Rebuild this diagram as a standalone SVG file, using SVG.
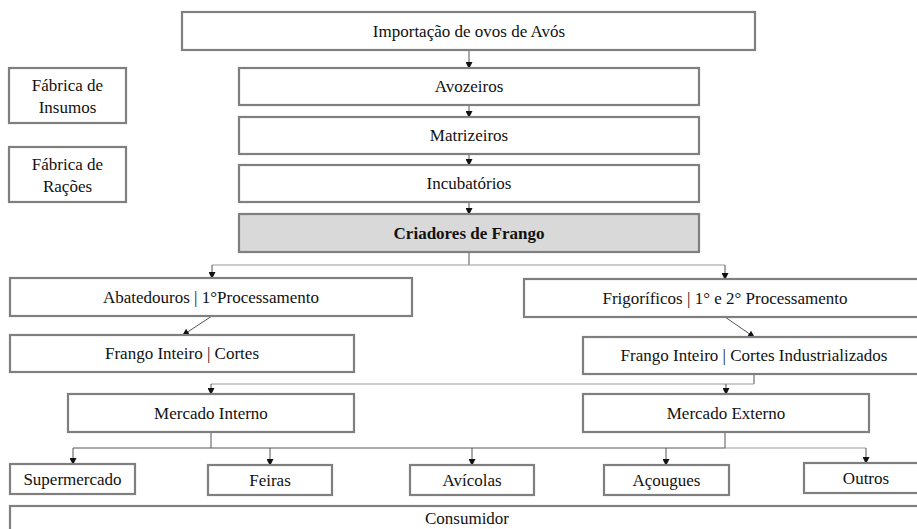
<svg xmlns="http://www.w3.org/2000/svg" width="917" height="529" viewBox="0 0 917 529">
<defs>
<style>
.box{fill:#ffffff;stroke:#7f7f7f;stroke-width:2.2}
.grey{fill:#d9d9d9}
.b{font-weight:bold}
.c{fill:none;stroke:#555;stroke-width:1}
.cl{fill:none;stroke:#999;stroke-width:1}
</style>
<marker id="ad" markerWidth="7" markerHeight="7" refX="6" refY="3.5" orient="auto" markerUnits="userSpaceOnUse" viewBox="0 0 7 7">
<path d="M0,0 L7,3.5 L0,7 Z" fill="#111"/>
</marker>
</defs>

<g id="connectors">
<line class="c" x1="469" y1="50" x2="469" y2="68" marker-end="url(#ad)"/>
<line class="c" x1="469" y1="105" x2="469" y2="117" marker-end="url(#ad)"/>
<line class="c" x1="469" y1="154" x2="469" y2="165" marker-end="url(#ad)"/>
<line class="c" x1="469" y1="202" x2="469" y2="214" marker-end="url(#ad)"/>
<path class="c" d="M469,252 V265"/>
<path class="cl" d="M469,265 H212"/>
<path class="c" d="M212,265 V278" marker-end="url(#ad)"/>
<path class="cl" d="M469,265 H725"/>
<path class="c" d="M725,265 V279" marker-end="url(#ad)"/>
<line class="c" x1="212" y1="316" x2="183" y2="335" marker-end="url(#ad)"/>
<line class="c" x1="725" y1="317" x2="754" y2="337" marker-end="url(#ad)"/>
<path class="c" d="M754,374 V384"/>
<path class="cl" d="M754,384 H211"/>
<path class="c" d="M211,384 V394" marker-end="url(#ad)"/>
<path class="c" d="M726,384 V394" marker-end="url(#ad)"/>
<path class="c" d="M211,432 V448"/>
<path class="c" d="M725,432 V448"/>
<path class="c" d="M73,448 H725"/>
<path class="cl" d="M725,448 H866"/>
<path class="c" d="M73,448 V464" marker-end="url(#ad)"/>
<path class="c" d="M270,448 V465" marker-end="url(#ad)"/>
<path class="c" d="M472,448 V465" marker-end="url(#ad)"/>
<path class="c" d="M666,448 V465" marker-end="url(#ad)"/>
<path class="c" d="M866,448 V463" marker-end="url(#ad)"/>
</g>

<g font-family="Liberation Serif, serif" font-size="17" fill="#111" text-anchor="middle">
<g id="importacao"><rect class="box" x="182" y="12" width="573" height="38"/><text x="469" y="37">Importação de ovos de Avós</text></g>
<g id="insumos"><rect class="box" x="9" y="68" width="117" height="55"/><text x="67.5" y="91">Fábrica de</text><text x="67.5" y="113">Insumos</text></g>
<g id="racoes"><rect class="box" x="9" y="147" width="117" height="55"/><text x="67.5" y="170">Fábrica de</text><text x="67.5" y="192">Rações</text></g>
<g id="avozeiros"><rect class="box" x="239" y="68" width="460" height="37"/><text x="469" y="92">Avozeiros</text></g>
<g id="matrizeiros"><rect class="box" x="239" y="117" width="460" height="37"/><text x="469" y="141">Matrizeiros</text></g>
<g id="incubatorios"><rect class="box" x="239" y="165" width="460" height="37"/><text x="469" y="189">Incubatórios</text></g>
<g id="criadores"><rect class="box grey" x="239" y="214" width="460" height="38"/><text class="b" x="469" y="239">Criadores de Frango</text></g>
<g id="abatedouros"><rect class="box" x="10" y="278" width="402" height="38"/><text x="211" y="303">Abatedouros | 1°Processamento</text></g>
<g id="frigorificos"><rect class="box" x="524" y="279" width="402" height="38"/><text x="725" y="304">Frigoríficos | 1° e 2° Processamento</text></g>
<g id="frango-cortes"><rect class="box" x="10" y="335" width="344" height="37"/><text x="182" y="359">Frango Inteiro | Cortes</text></g>
<g id="frango-industrializados"><rect class="box" x="583" y="337" width="342" height="37"/><text x="754" y="361">Frango Inteiro | Cortes Industrializados</text></g>
<g id="mercado-interno"><rect class="box" x="68" y="394" width="286" height="38"/><text x="211" y="419">Mercado Interno</text></g>
<g id="mercado-externo"><rect class="box" x="583" y="394" width="286" height="38"/><text x="726" y="419">Mercado Externo</text></g>
<g id="supermercado"><rect class="box" x="10" y="464" width="125" height="30"/><text x="72.5" y="485">Supermercado</text></g>
<g id="feiras"><rect class="box" x="208" y="465" width="124" height="30"/><text x="270" y="486">Feiras</text></g>
<g id="avicolas"><rect class="box" x="410" y="465" width="124" height="30"/><text x="472" y="486">Avícolas</text></g>
<g id="acougues"><rect class="box" x="604" y="465" width="125" height="30"/><text x="666.5" y="486">Açougues</text></g>
<g id="outros"><rect class="box" x="804" y="463" width="124" height="30"/><text x="866" y="484">Outros</text></g>
<g id="consumidor"><rect class="box" x="10" y="506" width="914" height="40"/><text x="467" y="524">Consumidor</text></g>
</g>
</svg>
